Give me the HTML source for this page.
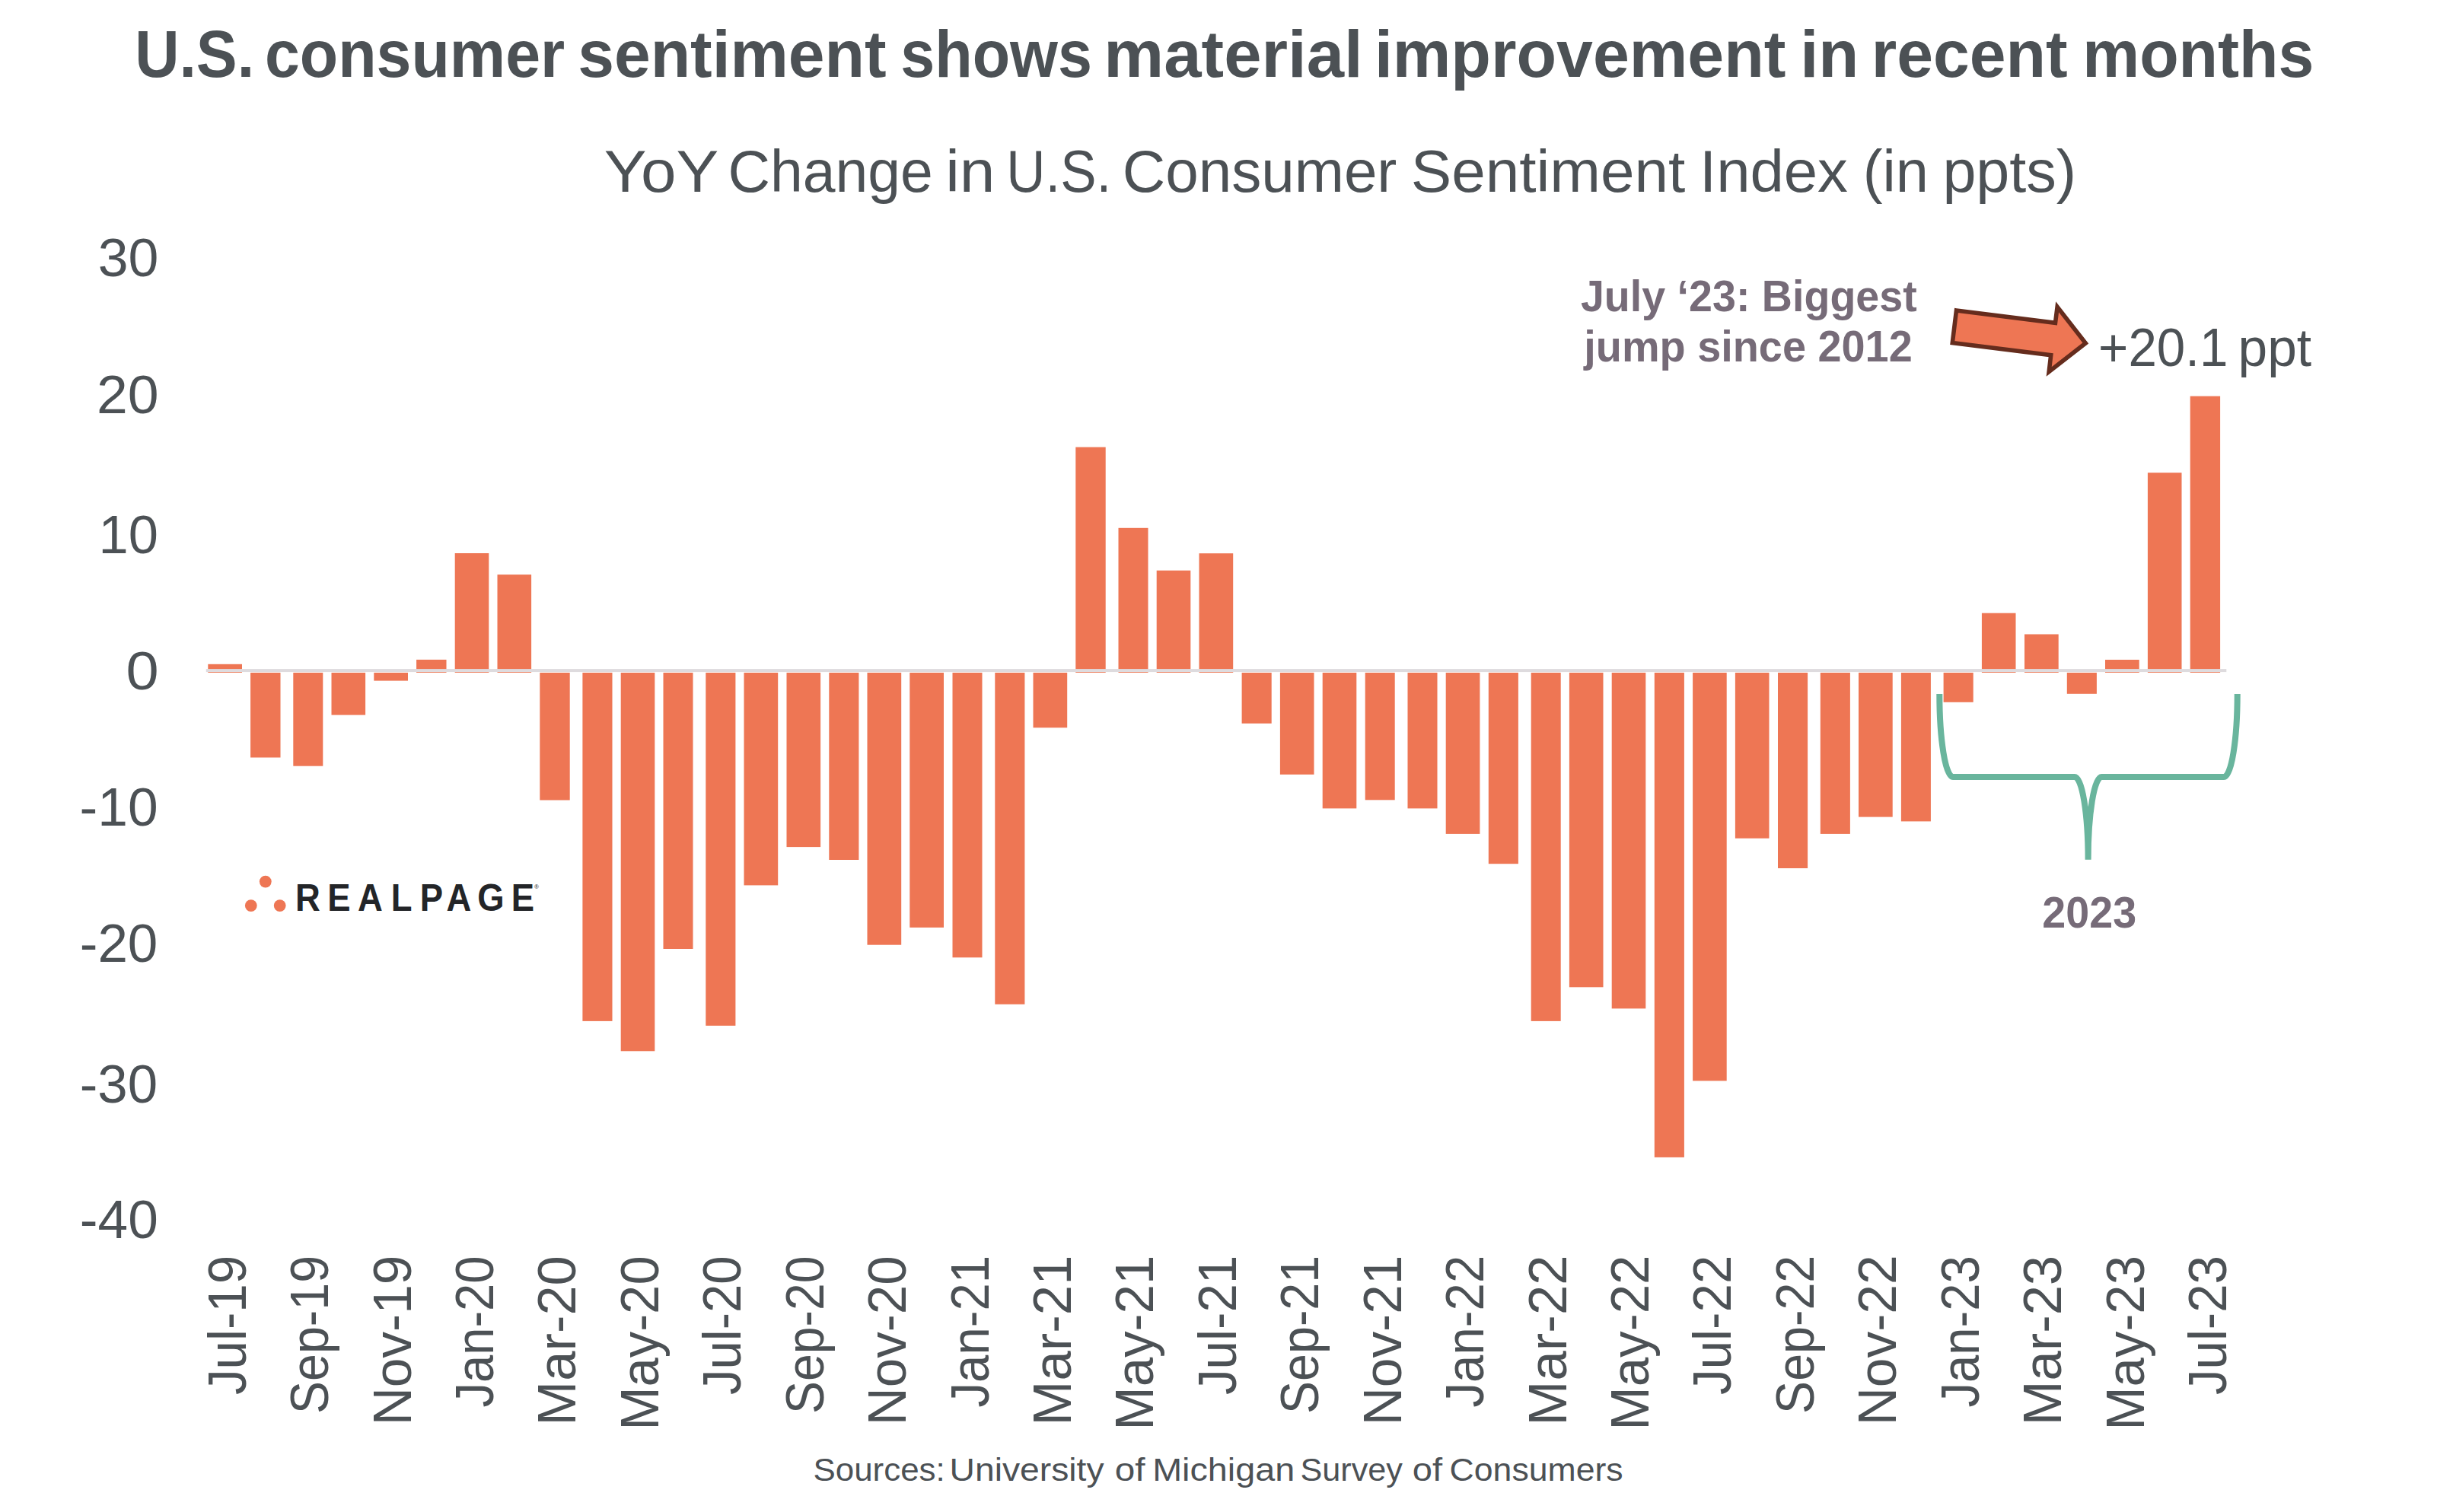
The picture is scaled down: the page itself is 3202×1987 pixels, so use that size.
<!DOCTYPE html>
<html lang="en"><head><meta charset="utf-8"><title>U.S. consumer sentiment shows material improvement in recent months</title>
<style>html,body{margin:0;padding:0;background:#fff;overflow:hidden}svg{display:block}text{font-family:"Liberation Sans",Arial,Helvetica,sans-serif;white-space:pre}</style></head><body>
<svg width="3202" height="1987" viewBox="0 0 3202 1987" role="img" aria-label="Bar chart of YoY change in U.S. Consumer Sentiment Index">
<rect width="3202" height="1987" fill="#fff"/>
<g fill="#ee7654">
<rect x="273.3" y="872.8" width="44.7" height="11.2"/>
<rect x="329.1" y="884.0" width="39.4" height="111.5"/>
<rect x="385.3" y="884.0" width="39.0" height="122.7"/>
<rect x="435.5" y="884.0" width="44.6" height="55.6"/>
<rect x="491.3" y="884.0" width="44.7" height="10.6"/>
<rect x="547.1" y="866.9" width="39.4" height="17.1"/>
<rect x="597.7" y="727.0" width="44.6" height="157.0"/>
<rect x="653.5" y="755.1" width="44.6" height="128.9"/>
<rect x="709.3" y="884.0" width="39.4" height="167.5"/>
<rect x="765.4" y="884.0" width="39.1" height="457.9"/>
<rect x="815.7" y="884.0" width="44.6" height="497.3"/>
<rect x="871.5" y="884.0" width="39.0" height="363.0"/>
<rect x="927.3" y="884.0" width="39.1" height="463.9"/>
<rect x="977.5" y="884.0" width="44.7" height="279.4"/>
<rect x="1033.5" y="884.0" width="44.6" height="229.1"/>
<rect x="1089.3" y="884.0" width="39.1" height="246.0"/>
<rect x="1139.5" y="884.0" width="44.7" height="357.7"/>
<rect x="1195.3" y="884.0" width="44.7" height="334.9"/>
<rect x="1251.5" y="884.0" width="39.0" height="374.3"/>
<rect x="1307.3" y="884.0" width="39.1" height="435.8"/>
<rect x="1357.5" y="884.0" width="44.7" height="72.3"/>
<rect x="1413.3" y="587.6" width="39.4" height="296.4"/>
<rect x="1469.5" y="693.8" width="39.0" height="190.2"/>
<rect x="1519.7" y="749.7" width="44.6" height="134.3"/>
<rect x="1575.5" y="727.2" width="44.7" height="156.8"/>
<rect x="1631.6" y="884.0" width="39.1" height="66.7"/>
<rect x="1681.9" y="884.0" width="44.6" height="133.8"/>
<rect x="1737.7" y="884.0" width="44.6" height="178.4"/>
<rect x="1793.7" y="884.0" width="39.0" height="167.3"/>
<rect x="1849.5" y="884.0" width="39.0" height="178.4"/>
<rect x="1899.7" y="884.0" width="44.7" height="211.9"/>
<rect x="1955.8" y="884.0" width="39.1" height="251.2"/>
<rect x="2011.7" y="884.0" width="39.0" height="457.9"/>
<rect x="2061.9" y="884.0" width="44.6" height="413.3"/>
<rect x="2117.7" y="884.0" width="44.6" height="441.4"/>
<rect x="2173.8" y="884.0" width="39.1" height="636.9"/>
<rect x="2224.1" y="884.0" width="44.6" height="536.4"/>
<rect x="2279.9" y="884.0" width="44.6" height="217.7"/>
<rect x="2336.0" y="884.0" width="39.1" height="257.0"/>
<rect x="2391.8" y="884.0" width="39.1" height="211.9"/>
<rect x="2442.0" y="884.0" width="44.7" height="189.6"/>
<rect x="2497.9" y="884.0" width="39.0" height="195.4"/>
<rect x="2553.6" y="884.0" width="39.1" height="38.8"/>
<rect x="2603.9" y="805.7" width="44.6" height="78.3"/>
<rect x="2660.0" y="833.5" width="44.7" height="50.5"/>
<rect x="2715.8" y="884.0" width="39.1" height="27.8"/>
<rect x="2766.0" y="867.0" width="44.7" height="17.0"/>
<rect x="2821.9" y="621.2" width="44.6" height="262.8"/>
<rect x="2877.7" y="520.6" width="39.4" height="363.4"/>
</g>
<rect x="270.8" y="879.1" width="2654.5" height="4" fill="#dedbde"/>
<text y="100.8" font-size="88" font-weight="bold" fill="#4c5155"><tspan x="177.16" textLength="156.90" lengthAdjust="spacingAndGlyphs">U.S.</tspan> <tspan x="347.88" textLength="394.27" lengthAdjust="spacingAndGlyphs">consumer</tspan> <tspan x="759.18" textLength="405.47" lengthAdjust="spacingAndGlyphs">sentiment</tspan> <tspan x="1183.36" textLength="251.56" lengthAdjust="spacingAndGlyphs">shows</tspan> <tspan x="1450.35" textLength="340.33" lengthAdjust="spacingAndGlyphs">material</tspan> <tspan x="1805.89" textLength="540.56" lengthAdjust="spacingAndGlyphs">improvement</tspan> <tspan x="2365.24" textLength="77.14" lengthAdjust="spacingAndGlyphs">in</tspan> <tspan x="2458.74" textLength="257.91" lengthAdjust="spacingAndGlyphs">recent</tspan> <tspan x="2736.25" textLength="304.11" lengthAdjust="spacingAndGlyphs">months</tspan></text>
<text y="252.1" font-size="77" fill="#4c5155"><tspan x="793.78" textLength="148.94" lengthAdjust="spacingAndGlyphs">YoY</tspan> <tspan x="956.60" textLength="269.11" lengthAdjust="spacingAndGlyphs">Change</tspan> <tspan x="1242.19" textLength="65.25" lengthAdjust="spacingAndGlyphs">in</tspan> <tspan x="1322.33" textLength="137.95" lengthAdjust="spacingAndGlyphs">U.S.</tspan> <tspan x="1474.83" textLength="360.57" lengthAdjust="spacingAndGlyphs">Consumer</tspan> <tspan x="1853.87" textLength="360.42" lengthAdjust="spacingAndGlyphs">Sentiment</tspan> <tspan x="2233.05" textLength="194.91" lengthAdjust="spacingAndGlyphs">Index</tspan> <tspan x="2447.69" textLength="86.14" lengthAdjust="spacingAndGlyphs">(in</tspan> <tspan x="2552.40" textLength="175.80" lengthAdjust="spacingAndGlyphs">ppts)</tspan></text>
<text y="1945.6" font-size="43" fill="#4c5155"><tspan x="1068.40" textLength="173.41" lengthAdjust="spacingAndGlyphs">Sources:</tspan> <tspan x="1247.53" textLength="203.06" lengthAdjust="spacingAndGlyphs">University</tspan> <tspan x="1464.80" textLength="39.84" lengthAdjust="spacingAndGlyphs">of</tspan> <tspan x="1514.17" textLength="187.07" lengthAdjust="spacingAndGlyphs">Michigan</tspan> <tspan x="1708.54" textLength="134.45" lengthAdjust="spacingAndGlyphs">Survey</tspan> <tspan x="1855.72" textLength="39.31" lengthAdjust="spacingAndGlyphs">of</tspan> <tspan x="1904.64" textLength="227.98" lengthAdjust="spacingAndGlyphs">Consumers</tspan></text>
<text y="481.3" font-size="70" fill="#4c5155"><tspan x="2757.11" textLength="170.27" lengthAdjust="spacingAndGlyphs">+20.1</tspan> <tspan x="2940.52" textLength="96.59" lengthAdjust="spacingAndGlyphs">ppt</tspan></text>
<text x="128.77" y="363.2" font-size="70" fill="#4c5155" textLength="79.73" lengthAdjust="spacingAndGlyphs">30</text>
<text x="126.91" y="542.6" font-size="70" fill="#4c5155" textLength="81.66" lengthAdjust="spacingAndGlyphs">20</text>
<text x="129.53" y="727.0" font-size="70" fill="#4c5155" textLength="78.42" lengthAdjust="spacingAndGlyphs">10</text>
<text x="165.57" y="905.9" font-size="70" fill="#4c5155" textLength="43.16" lengthAdjust="spacingAndGlyphs">0</text>
<text x="104.53" y="1084.8" font-size="70" fill="#4c5155" textLength="103.16" lengthAdjust="spacingAndGlyphs">-10</text>
<text x="104.74" y="1263.8" font-size="70" fill="#4c5155" textLength="102.63" lengthAdjust="spacingAndGlyphs">-20</text>
<text x="104.75" y="1448.8" font-size="70" fill="#4c5155" textLength="102.31" lengthAdjust="spacingAndGlyphs">-30</text>
<text x="104.84" y="1627.2" font-size="70" fill="#4c5155" textLength="102.95" lengthAdjust="spacingAndGlyphs">-40</text>
<text x="2076.96" y="408.8" font-size="58" font-weight="bold" fill="#766b78" textLength="441.72" lengthAdjust="spacingAndGlyphs">July ‘23: Biggest</text>
<text x="2081.27" y="475.4" font-size="58" font-weight="bold" fill="#766b78" textLength="431.46" lengthAdjust="spacingAndGlyphs">jump since 2012</text>
<text x="2683.37" y="1219.3" font-size="58" font-weight="bold" fill="#766b78" textLength="123.74" lengthAdjust="spacingAndGlyphs">2023</text>
<text transform="translate(322.6 0) rotate(-90)" x="-1833.05" y="0" font-size="70" fill="#4c5155" textLength="183.24" lengthAdjust="spacingAndGlyphs">Jul-19</text>
<text transform="translate(431.0 0) rotate(-90)" x="-1857.93" y="0" font-size="70" fill="#4c5155" textLength="207.98" lengthAdjust="spacingAndGlyphs">Sep-19</text>
<text transform="translate(539.5 0) rotate(-90)" x="-1873.29" y="0" font-size="70" fill="#4c5155" textLength="223.57" lengthAdjust="spacingAndGlyphs">Nov-19</text>
<text transform="translate(647.9 0) rotate(-90)" x="-1849.62" y="0" font-size="70" fill="#4c5155" textLength="199.16" lengthAdjust="spacingAndGlyphs">Jan-20</text>
<text transform="translate(756.3 0) rotate(-90)" x="-1873.38" y="0" font-size="70" fill="#4c5155" textLength="223.13" lengthAdjust="spacingAndGlyphs">Mar-20</text>
<text transform="translate(864.8 0) rotate(-90)" x="-1879.85" y="0" font-size="70" fill="#4c5155" textLength="229.54" lengthAdjust="spacingAndGlyphs">May-20</text>
<text transform="translate(973.2 0) rotate(-90)" x="-1833.05" y="0" font-size="70" fill="#4c5155" textLength="182.67" lengthAdjust="spacingAndGlyphs">Jul-20</text>
<text transform="translate(1081.6 0) rotate(-90)" x="-1857.92" y="0" font-size="70" fill="#4c5155" textLength="207.43" lengthAdjust="spacingAndGlyphs">Sep-20</text>
<text transform="translate(1190.0 0) rotate(-90)" x="-1873.27" y="0" font-size="70" fill="#4c5155" textLength="222.98" lengthAdjust="spacingAndGlyphs">Nov-20</text>
<text transform="translate(1298.5 0) rotate(-90)" x="-1849.62" y="0" font-size="70" fill="#4c5155" textLength="199.81" lengthAdjust="spacingAndGlyphs">Jan-21</text>
<text transform="translate(1406.9 0) rotate(-90)" x="-1873.40" y="0" font-size="70" fill="#4c5155" textLength="223.85" lengthAdjust="spacingAndGlyphs">Mar-21</text>
<text transform="translate(1515.3 0) rotate(-90)" x="-1879.86" y="0" font-size="70" fill="#4c5155" textLength="230.24" lengthAdjust="spacingAndGlyphs">May-21</text>
<text transform="translate(1623.8 0) rotate(-90)" x="-1833.05" y="0" font-size="70" fill="#4c5155" textLength="183.34" lengthAdjust="spacingAndGlyphs">Jul-21</text>
<text transform="translate(1732.2 0) rotate(-90)" x="-1857.93" y="0" font-size="70" fill="#4c5155" textLength="208.08" lengthAdjust="spacingAndGlyphs">Sep-21</text>
<text transform="translate(1840.6 0) rotate(-90)" x="-1873.29" y="0" font-size="70" fill="#4c5155" textLength="223.68" lengthAdjust="spacingAndGlyphs">Nov-21</text>
<text transform="translate(1949.1 0) rotate(-90)" x="-1849.62" y="0" font-size="70" fill="#4c5155" textLength="199.91" lengthAdjust="spacingAndGlyphs">Jan-22</text>
<text transform="translate(2057.5 0) rotate(-90)" x="-1873.40" y="0" font-size="70" fill="#4c5155" textLength="223.96" lengthAdjust="spacingAndGlyphs">Mar-22</text>
<text transform="translate(2165.9 0) rotate(-90)" x="-1879.87" y="0" font-size="70" fill="#4c5155" textLength="230.34" lengthAdjust="spacingAndGlyphs">May-22</text>
<text transform="translate(2274.3 0) rotate(-90)" x="-1833.05" y="0" font-size="70" fill="#4c5155" textLength="183.44" lengthAdjust="spacingAndGlyphs">Jul-22</text>
<text transform="translate(2382.8 0) rotate(-90)" x="-1857.93" y="0" font-size="70" fill="#4c5155" textLength="208.18" lengthAdjust="spacingAndGlyphs">Sep-22</text>
<text transform="translate(2491.2 0) rotate(-90)" x="-1873.29" y="0" font-size="70" fill="#4c5155" textLength="223.79" lengthAdjust="spacingAndGlyphs">Nov-22</text>
<text transform="translate(2599.6 0) rotate(-90)" x="-1849.62" y="0" font-size="70" fill="#4c5155" textLength="199.49" lengthAdjust="spacingAndGlyphs">Jan-23</text>
<text transform="translate(2708.1 0) rotate(-90)" x="-1873.39" y="0" font-size="70" fill="#4c5155" textLength="223.49" lengthAdjust="spacingAndGlyphs">Mar-23</text>
<text transform="translate(2816.5 0) rotate(-90)" x="-1879.86" y="0" font-size="70" fill="#4c5155" textLength="229.88" lengthAdjust="spacingAndGlyphs">May-23</text>
<text transform="translate(2924.9 0) rotate(-90)" x="-1833.05" y="0" font-size="70" fill="#4c5155" textLength="183.00" lengthAdjust="spacingAndGlyphs">Jul-23</text>
<polygon points="2570.5,408 2700.5,424.3 2703.1,403.4 2740.3,451 2692.2,488.4 2694.7,466.6 2565.3,450.5" fill="#ee7654" stroke="#652c1d" stroke-width="5.6" stroke-linejoin="miter"/>
<path d="M2548.3 912 A17.6 109 0 0 0 2565.9 1021 L2726 1021 A17.6 108.7 0 0 1 2743.6 1129.7 A17.6 108.7 0 0 1 2761.2 1021 L2922.1 1021 A17.6 109 0 0 0 2939.7 912" fill="none" stroke="#69b59d" stroke-width="8"/>
<g fill="#ee7654"><circle cx="348.8" cy="1158.6" r="7.9"/><circle cx="329.8" cy="1190.1" r="7.9"/><circle cx="367.7" cy="1190.1" r="7.9"/></g>
<text transform="scale(0.9 1)" x="431.18 478.07 522.11 570.73 613.00 651.74 697.00 746.44" y="1196.7" font-size="50.5" font-weight="bold" fill="#232528">REALPAGE</text>
<text x="705" y="1167.5" font-size="8" fill="#232528" text-anchor="middle">®</text>
</svg></body></html>
